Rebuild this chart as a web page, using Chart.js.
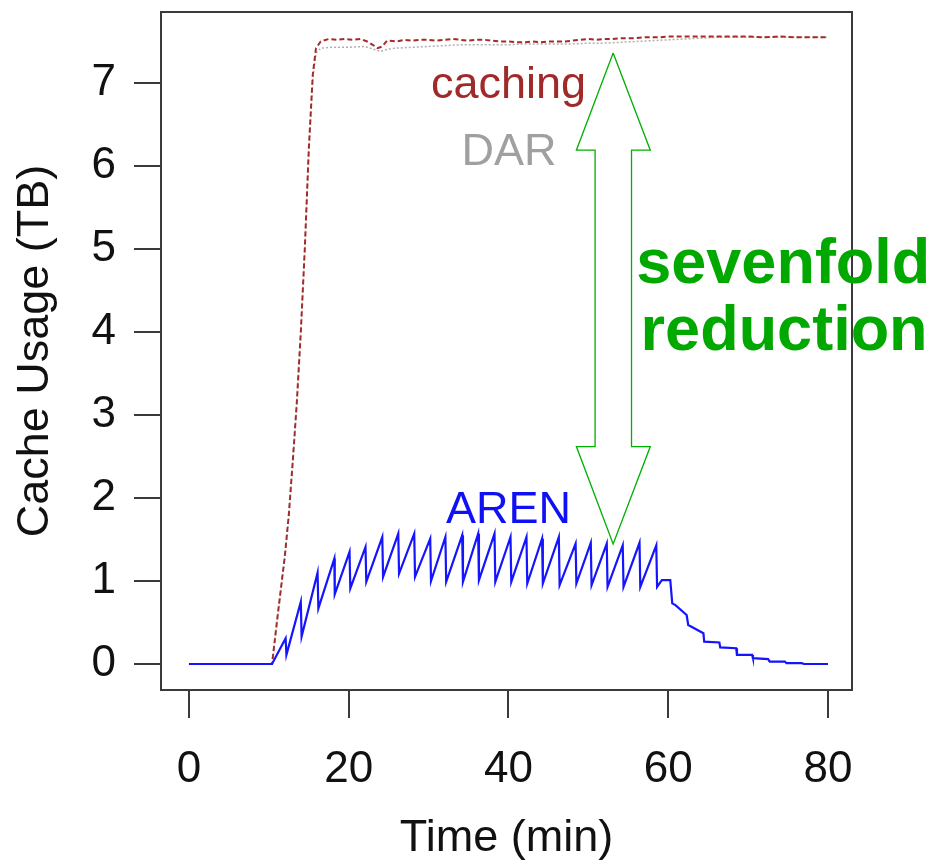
<!DOCTYPE html>
<html><head><meta charset="utf-8">
<script src="https://cdn.jsdelivr.net/npm/chart.js@4"></script>
<style>html,body{margin:0;padding:0;background:#fff}#wrap{width:935px;height:866px;position:relative}</style>
</head><body><div id="wrap"><canvas id="c" width="935" height="866"></canvas></div>
<script>
// ---- data ----
const xTicks = [0, 20, 40, 60, 80];
const yTicks = [0, 1, 2, 3, 4, 5, 6, 7];

const cachingT = [0,10.4,11,11.5,12,12.5,13,13.5,14,14.5,15,15.5,15.9,16.5,
  17.5,18.5,19.5,20.5,21.5,22.3,23,23.6,24.2,24.8,
  26,27,28,29,30,31,32,33,34,35,
  36,37,38,39,40,41,42,43,44,45,
  46,47,48,49,50,51,52,53,54,55,
  56,57,58,59,60,
  62,64,66,68,70,72,74,76,78,80];
const cachingV = [0,0,0.5,0.9,1.3,1.8,2.45,3.15,4.0,5.0,6.2,7.1,7.42,7.5,
  7.53,7.52,7.53,7.52,7.53,7.5,7.46,7.42,7.44,7.51,
  7.5,7.52,7.51,7.52,7.52,7.51,7.52,7.53,7.52,7.51,
  7.52,7.52,7.51,7.5,7.5,7.49,7.49,7.5,7.49,7.5,
  7.5,7.5,7.51,7.52,7.53,7.52,7.53,7.53,7.54,7.54,
  7.54,7.55,7.55,7.55,7.56,
  7.56,7.56,7.56,7.56,7.56,7.55,7.56,7.55,7.55,7.55];

const darT = [0,10.4,11,11.5,12,12.5,13,13.5,14,14.5,15,15.5,15.9,16.5,
  18,20,22,23,24,25,26,28,
  30,32,34,36,38,40,42,44,46,48,50,
  52,54,56,58,60,62,64,66,68,70,72,74,76,78,80];
const darV = [0,0,0.48,0.88,1.28,1.78,2.43,3.13,3.98,4.98,6.18,7.05,7.36,7.42,
  7.43,7.43,7.44,7.41,7.38,7.41,7.42,7.43,
  7.44,7.45,7.46,7.46,7.46,7.46,7.47,7.47,7.47,7.47,7.48,
  7.48,7.49,7.5,7.51,7.52,7.53,7.54,7.55,7.55,7.55,7.55,7.55,7.55,7.55,7.55];

const arenT = [0,10.4,12.1,12.2,14.0,14.1,16.1,16.2,18.2,18.25,20.1,20.2,22.1,22.2,
  24.2,24.3,26.2,26.3,28.2,28.3,30.2,30.3,32.1,32.2,34.2,34.3,36.2,36.3,
  38.25,38.35,40.25,40.35,42.25,42.35,44.2,44.3,46.3,46.4,48.4,48.5,
  50.3,50.4,52.3,52.4,54.3,54.4,56.4,56.5,58.5,58.6,
  59.2,60.25,60.5,60.9,62.3,62.5,64.4,64.5,66.4,66.5,68.5,68.6,
  70.5,70.6,72.5,72.7,74.6,74.8,76.7,77,80];
const arenV = [0,0,0.31,0.11,0.75,0.33,1.10,0.67,1.27,0.84,1.35,0.91,1.41,0.99,
  1.53,1.05,1.57,1.09,1.57,1.05,1.51,1.0,1.53,0.99,1.55,0.99,1.57,1.01,
  1.57,0.99,1.53,0.99,1.53,0.97,1.51,0.97,1.53,0.95,1.45,0.97,
  1.46,0.95,1.45,0.93,1.43,0.93,1.46,0.93,1.43,0.93,
  1.01,1.01,0.73,0.71,0.59,0.47,0.37,0.27,0.26,0.20,0.19,0.11,
  0.11,0.07,0.06,0.03,0.03,0.01,0.01,0,0];

// double-headed arrow outline (annotation, in data units)
const arrowX = [53.1,57.75,55.4,55.4,57.75,53.1,48.5,50.84,50.84,48.5,53.1];
const arrowY = [7.36,6.19,6.19,2.62,2.62,1.446,2.62,2.62,6.19,6.19,7.36];

const notes = [
  {text:'caching', x:40, y:6.82, color:'#a02a2a', size:45, weight:'normal'},
  {text:'DAR', x:40.06, y:6.01, color:'#a0a0a0', size:45, weight:'normal'},
  {text:'AREN', x:40, y:1.70, color:'#1010f5', size:45, weight:'normal'},
  {text:'sevenfold', x:74.4, y:4.59, color:'#00a800', size:63, weight:'bold'},
  {text:'reduction', x:74.5, y:3.78, color:'#00a800', size:63, weight:'bold'}
];

const pairs = (t, v) => t.map((x, i) => ({x, y: v[i]}));
const FONT = "'Liberation Sans', Arial, Helvetica, sans-serif";
Chart.defaults.font.family = FONT;

const boxPlugin = {
  id: 'box',
  afterDraw(chart) {
    const {ctx, chartArea: a, scales} = chart;
    ctx.save();
    ctx.strokeStyle = '#3a3a3a';
    ctx.lineWidth = 2;
    ctx.strokeRect(a.left, a.top, a.right - a.left, a.bottom - a.top);
    ctx.textAlign = 'center';
    ctx.textBaseline = 'alphabetic';
    notes.forEach(n => {
      ctx.font = n.weight + ' ' + n.size + 'px ' + FONT;
      ctx.fillStyle = n.color;
      ctx.fillText(n.text, scales.x.getPixelForValue(n.x), scales.y.getPixelForValue(n.y));
    });
    ctx.restore();
  }
};

function noPad(s) { s.paddingTop = 0; s.paddingBottom = 0; s.paddingLeft = 0; s.paddingRight = 0; }

new Chart(document.getElementById('c'), {
  type: 'line',
  data: {
    datasets: [
      {label:'AREN', data: pairs(arenT, arenV), borderColor:'#1414ff', borderWidth:2.2, pointRadius:0, order:0},
      {label:'caching', data: pairs(cachingT, cachingV), borderColor:'#a52a2a', borderWidth:2, borderDash:[5,3], pointRadius:0, order:1},
      {label:'DAR', data: pairs(darT, darV), borderColor:'#b0b0b0', borderWidth:1.5, borderDash:[2,2], pointRadius:0, order:2},
      {label:'arrow', data: pairs(arrowX, arrowY), borderColor:'#00b000', borderWidth:1.3, pointRadius:0, order:3}
    ]
  },
  options: {
    responsive: false,
    animation: false,
    layout: {padding: {top: 12, right: 83, bottom: 0, left: 0}},
    plugins: {legend: {display: false}, tooltip: {enabled: false}},
    elements: {line: {tension: 0}},
    scales: {
      x: {
        type: 'linear', min: -3.5, max: 83,
        afterBuildTicks(s) { s.ticks = xTicks.map(v => ({value: v})); },
        afterFit(s) { s.height = 176; noPad(s); },
        grid: {drawOnChartArea: false, drawTicks: true, tickLength: 28, lineWidth: 2, color: '#3a3a3a'},
        border: {display: false},
        ticks: {padding: 25, font: {size: 44}, color: '#111', maxRotation: 0},
        title: {display: true, text: 'Time (min)', font: {size: 45, lineHeight: 1}, color: '#111', padding: {top: 0, bottom: 5}}
      },
      y: {
        type: 'linear', min: -0.313, max: 7.855,
        afterBuildTicks(s) { s.ticks = yTicks.map(v => ({value: v})); },
        afterFit(s) { s.width = 161; noPad(s); },
        grid: {drawOnChartArea: false, drawTicks: true, tickLength: 27, lineWidth: 2, color: '#3a3a3a'},
        border: {display: false},
        ticks: {padding: 18, font: {size: 44}, color: '#111'},
        title: {display: true, text: 'Cache Usage (TB)', font: {size: 45, lineHeight: 1}, color: '#111', padding: {top: 13, bottom: 0}}
      }
    }
  },
  plugins: [boxPlugin]
});
</script>
</body></html>
